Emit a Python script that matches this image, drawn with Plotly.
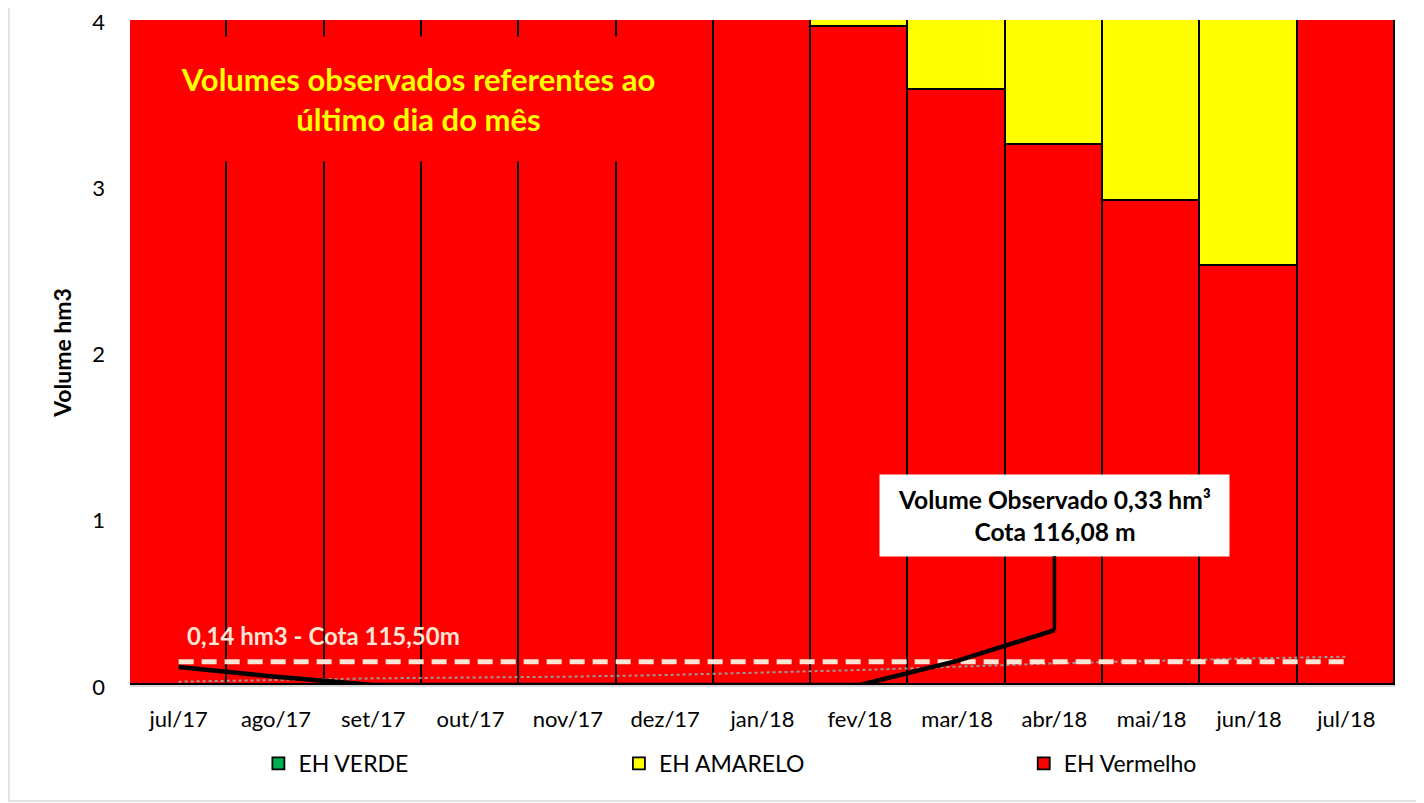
import plotly.graph_objects as go

months = ["jul/17", "ago/17", "set/17", "out/17", "nov/17", "dez/17", "jan/18",
          "fev/18", "mar/18", "abr/18", "mai/18", "jun/18", "jul/18"]
eh_vermelho = [4, 4, 4, 4, 4, 4, 4, 3.96, 3.58, 3.25, 2.91, 2.52, 4]
eh_amarelo = [0, 0, 0, 0, 0, 0, 0, 0.04, 0.42, 0.75, 1.09, 1.48, 0]
eh_verde = [0] * 13
vol_observado = [0.108, 0.05, 0, 0, 0, 0, 0, 0, 0.145, 0.33, None, None, None]
vol_referencia = [0.14] * 13
vol_dotted = [0.02, 0.03, 0.04, 0.045, 0.05, 0.06, 0.075, 0.09, 0.11, 0.13, 0.145, 0.16, 0.17]
y_ticks = [0, 1, 2, 3, 4]

FONT = "Lato"
fig = go.Figure()

fig.add_trace(go.Bar(x=months, y=eh_vermelho, name="EH Vermelho",
                     marker=dict(color="#FF0000", line=dict(color="black", width=1.8)),
                     legend="legend3"))
fig.add_trace(go.Bar(x=months, y=eh_amarelo, name="EH AMARELO",
                     marker=dict(color="#FFFF00", line=dict(color="black", width=1.8)),
                     legend="legend2"))
fig.add_trace(go.Bar(x=months, y=eh_verde, name="EH VERDE",
                     marker=dict(color="#00B050", line=dict(color="black", width=1.8)),
                     legend="legend"))

fig.add_trace(go.Scatter(x=months, y=vol_dotted, mode="lines", showlegend=False,
                         line=dict(color="#9A9A9A", width=2, dash="dot")))
fig.add_trace(go.Scatter(x=months, y=vol_referencia, mode="lines", showlegend=False,
                         line=dict(color="#FBE5D6", width=5, dash="15px,8px")))
fig.add_trace(go.Scatter(x=months, y=vol_observado, mode="lines", showlegend=False,
                         line=dict(color="black", width=4.5)))

legend_common = dict(orientation="h", yanchor="middle", y=-0.118, xanchor="left",
                     font=dict(family=FONT, size=23, color="#000000"),
                     bgcolor="rgba(0,0,0,0)", itemwidth=30)
fig.update_layout(
    legend=dict(x=0.1015, **legend_common),
    legend2=dict(x=0.3865, **legend_common),
    legend3=dict(x=0.7065, **legend_common),
)

fig.update_layout(
    width=1416, height=795,
    margin=dict(l=122, r=29, t=12, b=118, autoexpand=False),
    barmode="stack", bargap=0,
    plot_bgcolor="white", paper_bgcolor="white",
    font=dict(family=FONT, size=21, color="#000000"),
    xaxis=dict(range=[-0.5, 12.5], showgrid=False, showline=True, linecolor="#D9D9D9",
               linewidth=1.5, ticks="", ticklabelstandoff=14,
               tickfont=dict(family=FONT, size=22)),
    yaxis=dict(title=dict(text="<b>Volume hm3</b>", font=dict(family=FONT, size=23), standoff=14),
               range=[0, 4.0005], tickvals=y_ticks, showgrid=False, zeroline=False,
               showline=False, ticks="", ticklabelstandoff=24, ticklabeloverflow="allow",
               ticklabelshift=2, tickfont=dict(family=FONT, size=22)),
)

fig.add_annotation(x=0.2277, y=0.881, xref="paper", yref="paper",
                   xanchor="center", yanchor="middle",
                   text="<b>Volumes observados referentes ao<br>último dia do mês</b>",
                   showarrow=False, bgcolor="#FF0000", width=540, height=122,
                   font=dict(family=FONT, size=31, color="#FFFF00"))
fig.add_annotation(x=0.0435, y=0.0737, xref="paper", yref="paper",
                   xanchor="left", yanchor="middle",
                   text="<b>0,14 hm3 - Cota 115,50m</b>", showarrow=False,
                   font=dict(family=FONT, size=24, color="#FBE5D6"))
fig.add_annotation(x="abr/18", y=0.33, xref="x", yref="y",
                   text="<b>Volume Observado 0,33 hm³<br>Cota 116,08 m</b>",
                   showarrow=True, arrowhead=0, arrowwidth=3.5, arrowcolor="black",
                   ax=0, ay=-115, bgcolor="white", width=347, height=79,
                   font=dict(family=FONT, size=24.6, color="black"))

frame = dict(color="#D9D9D9", width=1.5)
fig.add_shape(type="line", xref="paper", yref="paper", x0=-0.0957, x1=-0.0957,
              y0=-0.1744, y1=1.05, line=frame, layer="below")
fig.add_shape(type="line", xref="paper", yref="paper", x0=1.0206, x1=1.0206,
              y0=-0.1744, y1=1.05, line=frame, layer="below")
fig.add_shape(type="line", xref="paper", yref="paper", x0=-0.0957, x1=1.0206,
              y0=-0.1744, y1=-0.1744, line=frame, layer="below")

fig.write_html("out.html")
